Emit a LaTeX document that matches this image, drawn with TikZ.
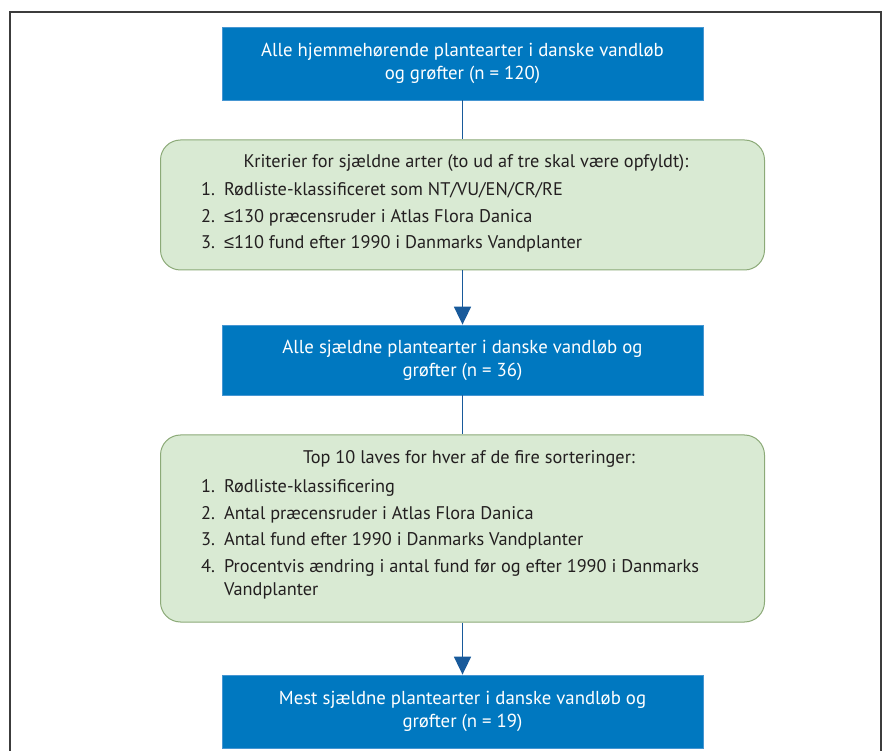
\documentclass[tikz,border=0pt]{standalone}
\usepackage{fontspec}
\setmainfont{PT Sans}
\newfontfamily\lesym{Liberation Sans}
\usetikzlibrary{arrows.meta}
\definecolor{boxblue}{RGB}{0,120,192}
\definecolor{boxedge}{RGB}{70,150,210}
\definecolor{arrowblue}{RGB}{24,90,155}
\definecolor{greenfill}{RGB}{217,234,211}
\definecolor{greenline}{RGB}{140,170,120}
\definecolor{framegray}{RGB}{60,60,60}
\definecolor{txt}{RGB}{35,31,32}
\begin{document}
\begin{tikzpicture}[x=1pt,y=-1pt,
  bluebox/.style={draw=boxedge, line width=0.8pt, fill=boxblue, minimum width=481pt, inner sep=0pt, text=white, align=center, font=\fontsize{18.8}{23}\selectfont},
  greenbox/.style={draw=greenline, line width=1pt, fill=greenfill, rounded corners=20pt, minimum width=604pt, inner sep=0pt},
  titletext/.style={anchor=base, text=txt, inner sep=0pt, font=\fontsize{18.3}{20}\selectfont},
  listtext/.style={anchor=base west, text=txt, inner sep=0pt, font=\fontsize{18.3}{26.5}\selectfont},
  conn/.style={draw=arrowblue, line width=1.8pt},
  arr/.style={conn, -{Triangle[width=17pt,length=18pt]}}]
\useasboundingbox (0,0) rectangle (887,751);
\draw[framegray, line width=1.5pt] (10,751) -- (10,12) -- (881,12) -- (881,751);

\node[bluebox, minimum height=73pt] (b1) at (462.5,63.5) {Alle hjemmehørende plantearter i danske vandløb\\og grøfter (n = 120)};

\node[greenbox, minimum height=130pt] (g1) at (462.5,205) {};
\node[titletext] (g1t) at (466,168) {Kriterier for sjældne arter (to ud af tre skal være opfyldt):};
\node[listtext] (g1l) at (201,196) {\begin{tabular}[t]{@{}l@{\hspace{9pt}}l@{}}
1. & Rødliste-klassificeret som NT/VU/EN/CR/RE\\
2. & {\lesym ≤}130 præcensruder i Atlas Flora Danica\\
3. & {\lesym ≤}110 fund efter 1990 i Danmarks Vandplanter
\end{tabular}};

\node[bluebox, minimum height=70pt] (b2) at (462.5,360) {Alle sjældne plantearter i danske vandløb og\\grøfter (n = 36)};

\node[greenbox, minimum height=187pt] (g2) at (462.5,528.5) {};
\node[titletext] (g2t) at (469,464) {Top 10 laves for hver af de fire sorteringer:};
\node[listtext] (g2l) at (201,493) {\begin{tabular}[t]{@{}l@{\hspace{9pt}}l@{}}
1. & Rødliste-klassificering\\
2. & Antal præcensruder i Atlas Flora Danica\\
3. & Antal fund efter 1990 i Danmarks Vandplanter\\
4. & Procentvis ændring i antal fund før og efter 1990 i Danmarks\\[-3.5pt]
   & Vandplanter
\end{tabular}};

\node[bluebox, minimum height=73pt] (b3) at (462.5,711.5) {Mest sjældne plantearter i danske vandløb og\\grøfter (n = 19)};

\draw[conn] (b1.south) -- (g1.north);
\draw[arr] (g1.south) -- (b2.north);
\draw[conn] (b2.south) -- (g2.north);
\draw[arr] (g2.south) -- (b3.north);
\end{tikzpicture}
\end{document}
